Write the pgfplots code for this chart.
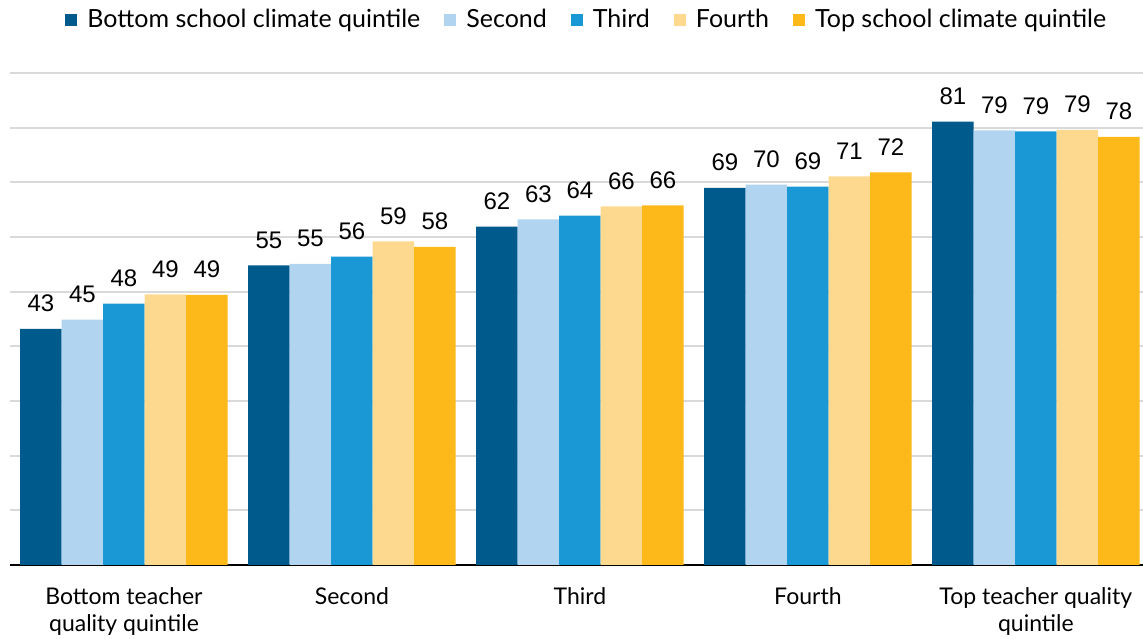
\documentclass[border=0pt]{standalone}
\usepackage{pgfplots}
\pgfplotsset{compat=1.18}
\usepackage{fontspec}
\setmainfont{Lato}
\newfontfamily\numfont{Liberation Sans}
\definecolor{c1}{HTML}{005A8B}
\definecolor{c2}{HTML}{B1D5F0}
\definecolor{c3}{HTML}{1A98D5}
\definecolor{c4}{HTML}{FDD98F}
\definecolor{c5}{HTML}{FDB91A}
\definecolor{gridc}{HTML}{D9D9D9}
\begin{document}
\begin{tikzpicture}
\begin{axis}[
  name=ax,
  scale only axis,
  width=566.5pt, height=246pt,
  xmin=-0.5, xmax=4.47,
  ymin=0, ymax=90,
  ybar=0pt, bar width=20.75pt,
  ytick={10,20,...,90},
  yticklabels={},
  ymajorgrids,
  grid style={gridc, line width=0.9pt},
  major tick length=0pt,
  axis lines*=left,
  y axis line style={draw=none},
  x axis line style={black, line width=0.9pt, -},
  xtick={0,1,2,3,4},
  xticklabels={{Bottom teacher\\quality quintile},Second,Third,Fourth,{Top teacher quality\\quintile}},
  xticklabel style={align=center, font=\fontsize{11.5}{13.5}\selectfont, yshift=-8pt},
  point meta=explicit symbolic,
  nodes near coords,
  every node near coord/.append style={font=\numfont\fontsize{12}{14}\selectfont, anchor=base, inner sep=0pt, yshift=8.5pt, text=black},
  legend columns=-1,
  legend style={draw=none, at={(0.51,1)}, anchor=center, yshift=26.5pt, font=\fontsize{12.5}{15}\selectfont,
    /tikz/every even column/.append style={column sep=10pt},
    /tikz/every odd column/.append style={column sep=3pt}},
  legend image code/.code={\fill[#1] (0pt,-3pt) rectangle (6pt,3pt);},
  clip=false,
]
\addplot[fill=c1, draw=none] coordinates {(0,43.2) [43] (1,54.8) [55] (2,61.9) [62] (3,69.0) [69] (4,81.1) [81]};
\addplot[fill=c2, draw=none] coordinates {(0,44.9) [45] (1,55.1) [55] (2,63.2) [63] (3,69.6) [70] (4,79.5) [79]};
\addplot[fill=c3, draw=none] coordinates {(0,47.8) [48] (1,56.4) [56] (2,63.9) [64] (3,69.2) [69] (4,79.3) [79]};
\addplot[fill=c4, draw=none] coordinates {(0,49.5) [49] (1,59.2) [59] (2,65.6) [66] (3,71.1) [71] (4,79.6) [79]};
\addplot[fill=c5, draw=none] coordinates {(0,49.4) [49] (1,58.2) [58] (2,65.8) [66] (3,71.8) [72] (4,78.3) [78]};
\legend{Bottom school climate quintile, Second, Third, Fourth, Top school climate quintile}
\end{axis}
\pgfresetboundingbox
\path ([xshift=-5pt,yshift=-37pt]ax.south west) rectangle ([yshift=36.5pt]ax.north east);
\end{tikzpicture}
\end{document}
